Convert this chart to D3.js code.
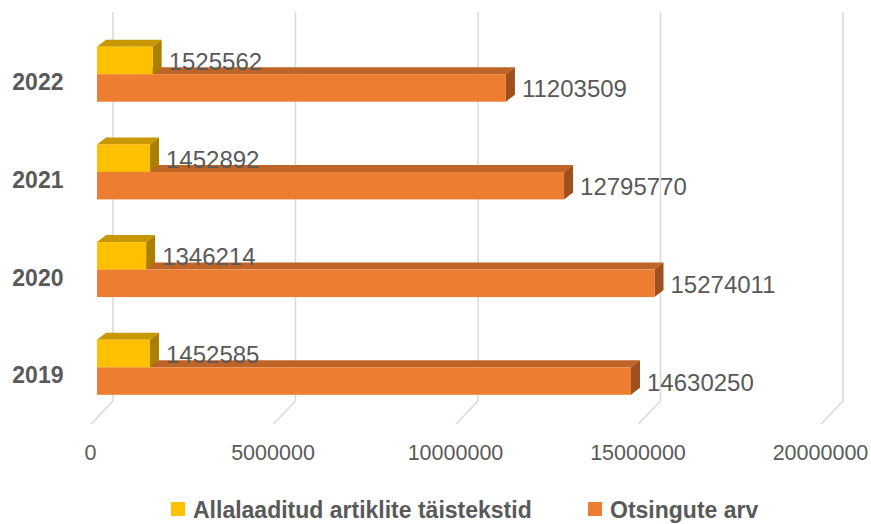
<!DOCTYPE html>
<html>
<head>
<meta charset="utf-8">
<script src="https://cdn.jsdelivr.net/npm/d3@7"></script>
<style>
  html, body { margin: 0; padding: 0; background: #fff; }
  svg { display: block; }
</style>
</head>
<body>
<svg id="chart" width="871" height="524"></svg>
<script>
// ---- data ----
const categories = ["2022", "2021", "2020", "2019"];
const seriesNames = ["Allalaaditud artiklite täistekstid", "Otsingute arv"];
const downloads = [1525562, 1452892, 1346214, 1452585];   // per category above
const searches  = [11203509, 12795770, 15274011, 14630250];
const tickValues = [0, 5000000, 10000000, 15000000, 20000000];
const tickLabels = ["0", "5000000", "10000000", "15000000", "20000000"];

const colors = {
  front: ["#FFC000", "#ED7D31"],
  top:   ["#C99700", "#BE6427"],
  side:  ["#AB8000", "#A0501E"]
};
const textColor = "#595959";
const gridColor = "#D9D9D9";
const depth = { dx: 9, dy: -7 };

const svg = d3.select("#chart");

const x = d3.scaleLinear().domain([0, 20000000]).range([97, 827]);
const y = d3.scaleBand().domain(categories).range([25.35, 416.15])
  .paddingInner(0.437).paddingOuter(0.2185);
const ySub = d3.scaleBand().domain(seriesNames).range([0, y.bandwidth()]);

// ---- back wall gridlines + floor diagonals ----
const wallTop = 12, wallBottom = 401, floorFront = 424;
const grid = svg.append("g");
tickValues.forEach(v => {
  const bx = x(v) + 16;
  grid.append("line").attr("x1", bx).attr("x2", bx)
    .attr("y1", wallTop).attr("y2", wallBottom)
    .attr("stroke", gridColor).attr("stroke-width", 1.5);
  grid.append("line").attr("x1", bx).attr("y1", wallBottom)
    .attr("x2", x(v) - 6).attr("y2", floorFront)
    .attr("stroke", gridColor).attr("stroke-width", 1.5);
});

// tick labels
svg.append("g").selectAll("text").data(tickValues).join("text")
  .attr("x", (d, i) => x(d) - 6.5)
  .attr("y", 460)
  .attr("text-anchor", "middle")
  .attr("font-family", "'Liberation Sans', Arial, sans-serif")
  .attr("font-size", 21.5)
  .attr("fill", textColor)
  .text((d, i) => tickLabels[i]);

// ---- bars ----
const rows = [];
categories.forEach((c, i) => {
  rows.push({ cat: c, s: 1, value: searches[i] });
  rows.push({ cat: c, s: 0, value: downloads[i] });
});

function drawBar(g, d) {
  const x0 = x(0), x1 = x(d.value);
  const y0 = y(d.cat) + ySub(seriesNames[d.s]);
  const h = ySub.bandwidth();
  const { dx, dy } = depth;
  // top face
  g.append("path")
    .attr("d", `M${x0},${y0} L${x0 + dx},${y0 + dy} L${x1 + dx},${y0 + dy} L${x1},${y0} Z`)
    .attr("fill", colors.top[d.s]);
  // side face
  g.append("path")
    .attr("d", `M${x1},${y0} L${x1 + dx},${y0 + dy} L${x1 + dx},${y0 + h + dy} L${x1},${y0 + h} Z`)
    .attr("fill", colors.side[d.s]);
  // front face
  g.append("rect")
    .attr("x", x0).attr("y", y0)
    .attr("width", x1 - x0).attr("height", h)
    .attr("fill", colors.front[d.s]);
}

const barsG = svg.append("g");
rows.forEach(d => drawBar(barsG, d));

// data labels
svg.append("g").selectAll("text").data(rows).join("text")
  .attr("x", d => x(d.value) + 16)
  .attr("y", d => y(d.cat) + ySub(seriesNames[d.s]) + ySub.bandwidth() / 2 + 1)
  .attr("dominant-baseline", "central")
  .attr("font-family", "'Liberation Sans', Arial, sans-serif")
  .attr("font-size", 24)
  .attr("fill", textColor)
  .text(d => d.value);

// category labels
svg.append("g").selectAll("text").data(categories).join("text")
  .attr("x", 63.5)
  .attr("y", d => y(d) + y.bandwidth() / 2 + 8)
  .attr("dominant-baseline", "central")
  .attr("text-anchor", "end")
  .attr("font-family", "'Liberation Sans', Arial, sans-serif")
  .attr("font-weight", "bold")
  .attr("font-size", 23)
  .attr("fill", textColor)
  .text(d => d);

// ---- legend ----
const legendX = [171, 588];
const legend = svg.append("g");
seriesNames.forEach((name, i) => {
  legend.append("rect")
    .attr("x", legendX[i]).attr("y", 502)
    .attr("width", 14).attr("height", 14)
    .attr("fill", colors.front[i]);
  legend.append("text")
    .attr("x", legendX[i] + 22).attr("y", 517.5)
    .attr("font-family", "'Liberation Sans', Arial, sans-serif")
    .attr("font-weight", "bold")
    .attr("font-size", 23)
    .attr("fill", textColor)
    .text(name);
});
</script>
</body>
</html>
